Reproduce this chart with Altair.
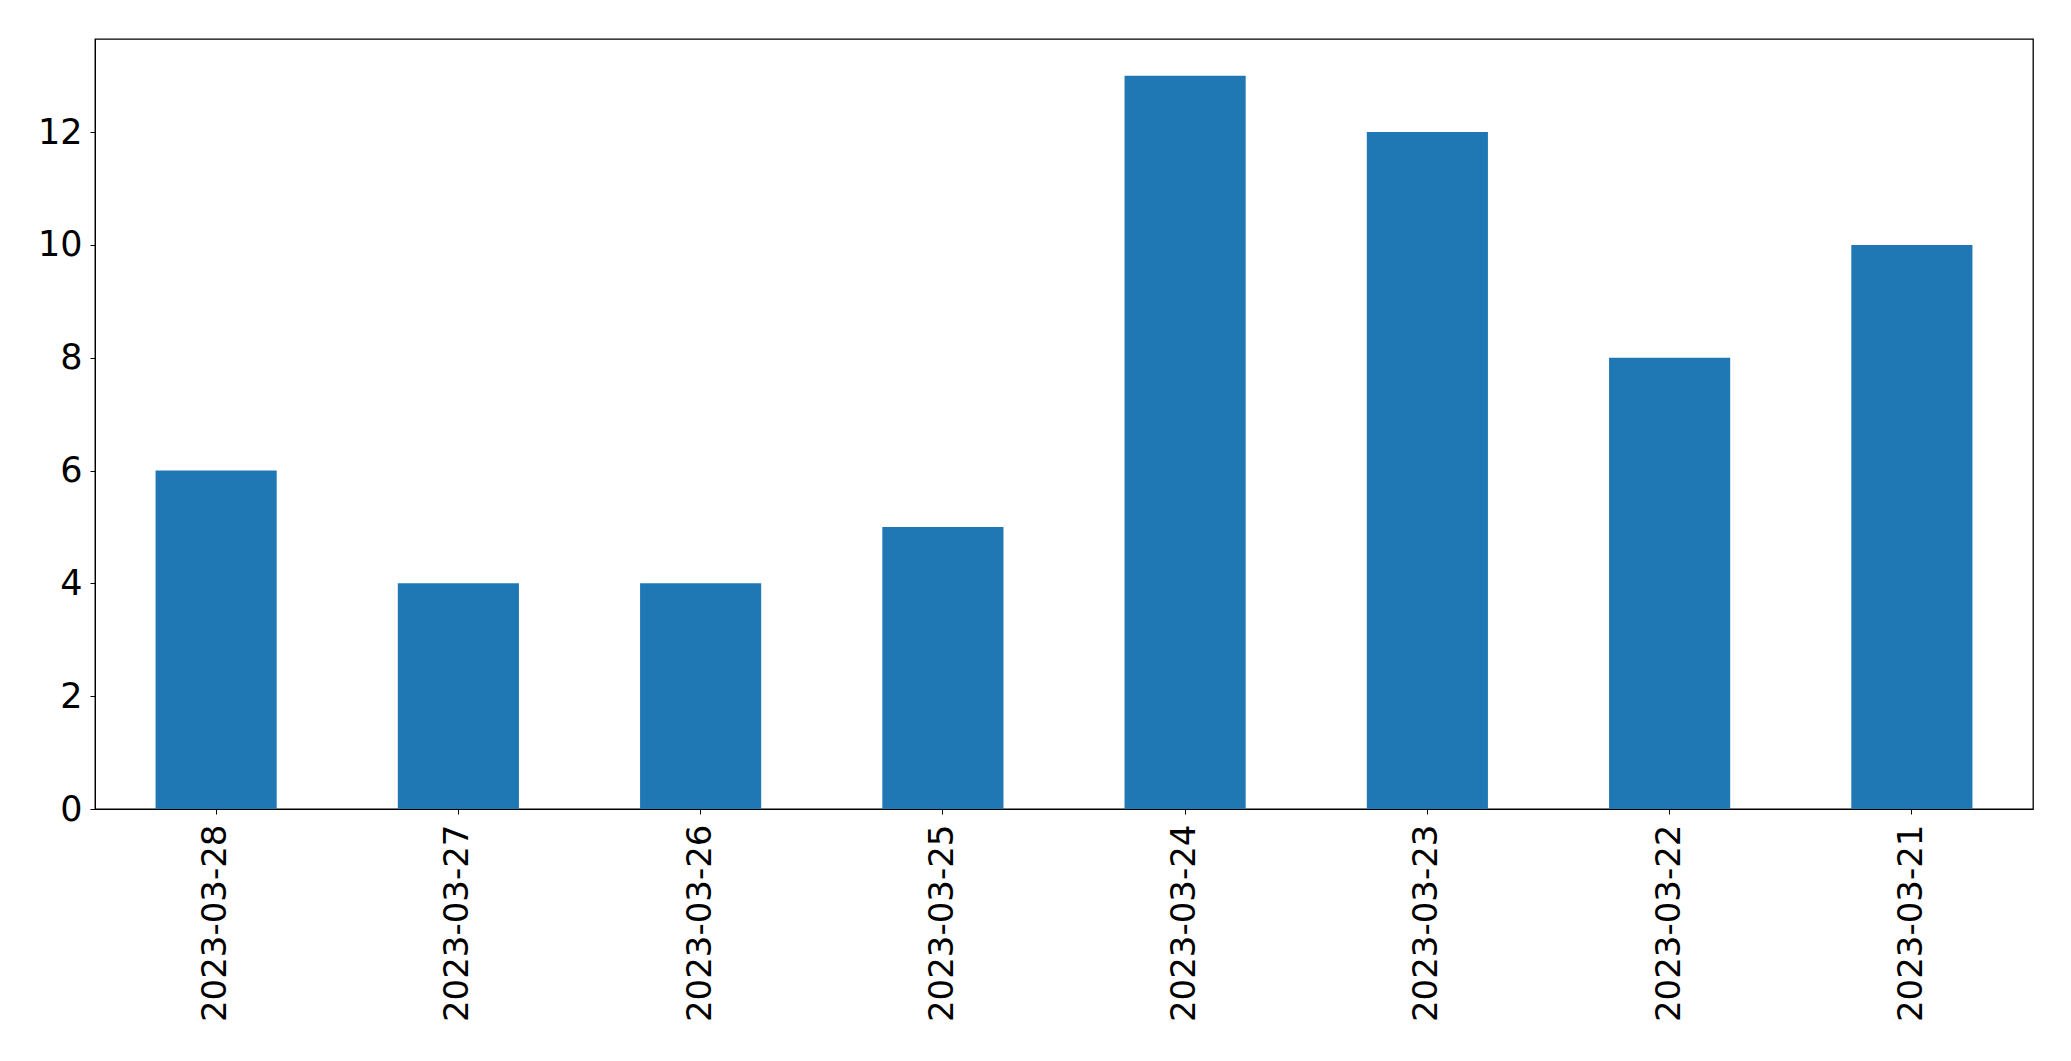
import altair as alt
import pandas as pd

dates = ["2023-03-28", "2023-03-27", "2023-03-26", "2023-03-25",
         "2023-03-24", "2023-03-23", "2023-03-22", "2023-03-21"]
counts = [6, 4, 4, 5, 13, 12, 8, 10]
y_ticks = [0, 2, 4, 6, 8, 10, 12]

df = pd.DataFrame({"date": dates, "count": counts})

chart = alt.Chart(df).mark_bar(color="#1f77b4").encode(
    x=alt.X("date:N", sort=dates, title=None,
            scale=alt.Scale(paddingInner=0.5, paddingOuter=0.25),
            axis=alt.Axis(labelAngle=270, labelFontSize=34, labelFont="DejaVu Sans",
                          labelColor="black", tickColor="black", tickSize=5,
                          labelPadding=10, labelLimit=1000, domainColor="black", grid=False)),
    y=alt.Y("count:Q", title=None,
            scale=alt.Scale(domain=[0, 13.65], nice=False, zero=True),
            axis=alt.Axis(values=y_ticks, labelFontSize=35, labelFont="DejaVu Sans",
                          labelColor="black", tickColor="black", tickSize=5,
                          labelPadding=8, domainColor="black", grid=False)),
).properties(
    width=1938, height=770,
    autosize=alt.AutoSizeParams(type="none"),
    padding={"left": 87, "top": 31, "right": 20, "bottom": 230},
).configure(background="white").configure_view(stroke="black", strokeWidth=1.3)

chart.save("out.html", embed_options={"renderer": "svg", "actions": False})
